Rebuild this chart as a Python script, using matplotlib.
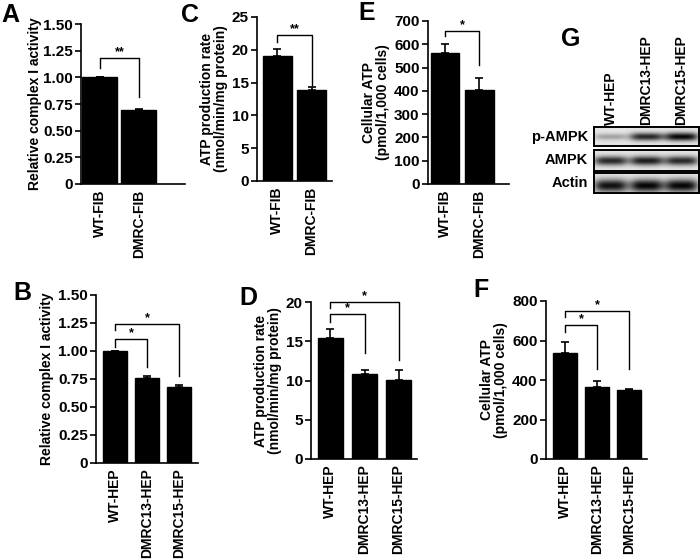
import numpy as np
import matplotlib
matplotlib.use("Agg")
import matplotlib.pyplot as plt

plt.rcParams['font.family'] = ['Liberation Sans', 'DejaVu Sans']
plt.rcParams['font.weight'] = 'bold'

# ---- data ----
fib_groups = ["WT-FIB", "DMRC-FIB"]
hep_groups = ["WT-HEP", "DMRC13-HEP", "DMRC15-HEP"]

a_vals = [1.00, 0.69]
a_err = [0.0, 0.015]
c_vals = [19.0, 13.9]
c_err = [1.1, 0.4]
e_vals = [563, 405]
e_err = [40, 50]

b_vals = [1.00, 0.76, 0.68]
b_err = [0.0, 0.02, 0.02]
d_vals = [15.4, 10.8, 10.1]
d_err = [1.1, 0.6, 1.3]
f_vals = [537, 363, 348]
f_err = [55, 30, 8]

blot_rows = ["p-AMPK", "AMPK", "Actin"]
blot_intensity = [[0.30, 0.85, 1.00],
                  [0.85, 0.90, 0.85],
                  [0.95, 1.00, 1.00]]

fig = plt.figure(figsize=(7, 5.6), dpi=100)


def bar_panel(rect, labels, vals, err, ylim, yticks, yticklabels, ylabel,
              xlim, width, letter, letter_xy, brackets, labelpad=3):
    ax = fig.add_axes(rect)
    x = np.arange(len(vals))
    ax.bar(x, vals, width=width, color='black', edgecolor='black')
    ax.errorbar(x, vals, yerr=[[0] * len(vals), err], fmt='none',
                ecolor='black', elinewidth=1.2, capsize=3, capthick=1.2)
    ax.set_xlim(*xlim)
    ax.set_ylim(*ylim)
    ax.set_yticks(yticks)
    ax.set_yticklabels(yticklabels, fontsize=11, fontweight='bold')
    ax.set_xticks(x)
    ax.set_xticklabels(labels, rotation=90, fontsize=10, fontweight='bold')
    ax.tick_params(axis='x', length=0, pad=4)
    ax.tick_params(axis='y', length=4, width=1.2, pad=2)
    for s in ['top', 'right']:
        ax.spines[s].set_visible(False)
    for s in ['left', 'bottom']:
        ax.spines[s].set_linewidth(1.2)
    ax.set_ylabel(ylabel, fontsize=10, fontweight='bold', labelpad=labelpad,
                  linespacing=1.0)
    for (i, j, ytop, yl, yr, star) in brackets:
        ax.plot([x[i], x[i], x[j], x[j]], [yl, ytop, ytop, yr], color='black',
                lw=1.0, clip_on=False)
        ax.text((x[i] + x[j]) / 2, ytop, star, ha='center', va='bottom',
                fontsize=9, fontweight='bold')
    fig.text(letter_xy[0], letter_xy[1], letter, fontsize=18,
             fontweight='bold', ha='left', va='top')
    return ax


# A
bar_panel([81 / 700, 1 - 184 / 560, 104 / 700, 160 / 560], fib_groups, a_vals, a_err,
          (0, 1.5), [0, 0.25, 0.5, 0.75, 1.0, 1.25, 1.5],
          ["0", "0.25", "0.50", "0.75", "1.00", "1.25", "1.50"],
          "Relative complex I activity", (-0.48, 2.18), 0.9, "A", (1 / 700, 1 - 3 / 560),
          [(0, 1, 1.18, 1.09, 0.82, "**")], labelpad=1)
# C
bar_panel([257 / 700, 1 - 181 / 560, 75 / 700, 164 / 560], fib_groups, c_vals, c_err,
          (0, 25), [0, 5, 10, 15, 20, 25], ["0", "5", "10", "15", "20", "25"],
          "ATP production rate\n(nmol/min/mg protein)", (-0.6, 1.6), 0.85, "C",
          (181 / 700, 1 - 3 / 560), [(0, 1, 22.3, 21.2, 14.6, "**")])
# E
bar_panel([428 / 700, 1 - 184 / 560, 81 / 700, 163 / 560], fib_groups, e_vals, e_err,
          (0, 700), list(range(0, 701, 100)), [str(v) for v in range(0, 701, 100)],
          "Cellular ATP\n(pmol/1,000 cells)", (-0.5, 1.88), 0.85, "E",
          (358 / 700, 1 - 1 / 560), [(0, 1, 657, 636, 511, "*")])
# B
bar_panel([96 / 700, 1 - 463 / 560, 102 / 700, 168 / 560], hep_groups, b_vals, b_err,
          (0, 1.5), [0, 0.25, 0.5, 0.75, 1.0, 1.25, 1.5],
          ["0", "0.25", "0.50", "0.75", "1.00", "1.25", "1.50"],
          "Relative complex I activity", (-0.6, 2.58), 0.75, "B", (13 / 700, 1 - 281 / 560),
          [(0, 2, 1.24, 1.19, 0.78, "*"), (0, 1, 1.11, 1.04, 0.86, "*")])
# D
bar_panel([311 / 700, 1 - 459 / 560, 106 / 700, 157 / 560], hep_groups, d_vals, d_err,
          (0, 20), [0, 5, 10, 15, 20], ["0", "5", "10", "15", "20"],
          "ATP production rate\n(nmol/min/mg protein)", (-0.57, 2.54), 0.72, "D",
          (239 / 700, 1 - 286 / 560),
          [(0, 2, 20.0, 19.2, 12.6, "*"), (0, 1, 18.5, 17.5, 13.5, "*")])
# F
bar_panel([546 / 700, 1 - 459 / 560, 101 / 700, 158 / 560], hep_groups, f_vals, f_err,
          (0, 800), [0, 200, 400, 600, 800], ["0", "200", "400", "600", "800"],
          "Cellular ATP\n(pmol/1,000 cells)", (-0.6, 2.56), 0.75, "F",
          (473 / 700, 1 - 278 / 560),
          [(0, 2, 750, 720, 455, "*"), (0, 1, 678, 643, 455, "*")])

# G - western blot
row_boxes = [(127, 146), (150, 171), (173, 193)]
band_shape = [(0.50, 0.20), (0.50, 0.22), (0.62, 0.32)]
lane_pos = [0.16, 0.50, 0.83]
gx0, gx1 = 594, 699
for r, (name, (yt, yb)) in enumerate(zip(blot_rows, row_boxes)):
    ax = fig.add_axes([gx0 / 700, 1 - yb / 560, (gx1 - gx0) / 700, (yb - yt) / 560])
    h, w = 40, 210
    yy, xx = np.mgrid[0:h, 0:w]
    img = np.full((h, w), 0.90)
    cy, sy = band_shape[r]
    for k, lp in enumerate(lane_pos):
        amp = blot_intensity[r][k]
        sy_k = sy * (0.75 + 0.35 * amp) if r == 0 else sy
        blob = np.exp(-((xx - lp * w) / (0.16 * w)) ** 4) * \
            np.exp(-((yy - h * cy) / (h * sy_k)) ** 2)
        img -= 0.88 * amp * blob
    ax.imshow(np.clip(img, 0, 1), cmap='gray', vmin=0, vmax=1, aspect='auto')
    ax.set_xticks([])
    ax.set_yticks([])
    for s in ax.spines.values():
        s.set_linewidth(1.4)
    fig.text(588 / 700, 1 - (yt + yb) / 2 / 560, name, ha='right', va='center',
             fontsize=10.5, fontweight='bold')

for lp, lab in zip(lane_pos, hep_groups):
    fig.text((gx0 + lp * (gx1 - gx0)) / 700, 1 - 125 / 560, lab, rotation=90,
             ha='center', va='bottom', fontsize=10, fontweight='bold')
fig.text(561 / 700, 1 - 27 / 560, "G", fontsize=18, fontweight='bold', ha='left', va='top')

fig.savefig("out.png", dpi=100)
